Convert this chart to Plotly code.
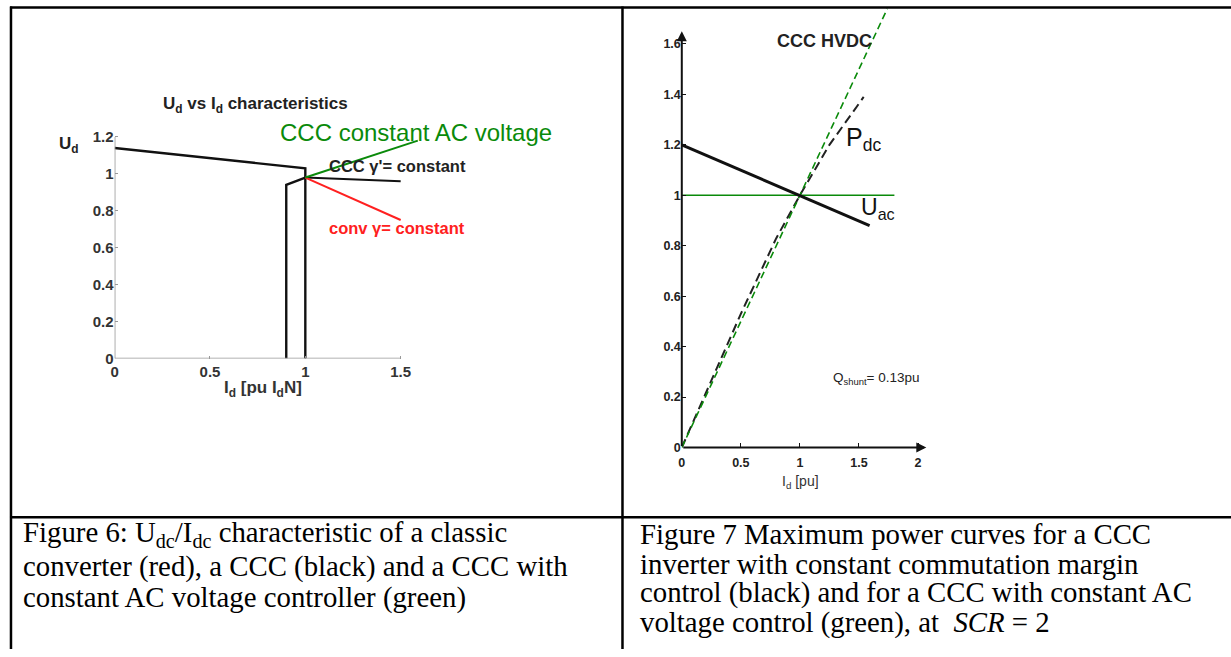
import plotly.graph_objects as go

W, H = 1231, 657

def PX(x):
    return x / W

def PY(y):
    return 1 - y / H

# ---------------- data: Figure 6 (left) ----------------
ccc_outer_x = [0.0, 1.0, 1.0, 1.0]
ccc_outer_y = [1.14, 1.03, 0.98, 0.0]
ccc_inner_x = [0.90, 0.90, 1.0]
ccc_inner_y = [0.0, 0.94, 0.98]
ccc_gamma_x = [1.0, 1.5]
ccc_gamma_y = [0.98, 0.96]
conv_x = [1.0, 1.5]
conv_y = [0.98, 0.75]
ccc_acv_x = [1.0, 1.59]
ccc_acv_y = [0.98, 1.18]
left_xticks = [0, 0.5, 1, 1.5]
left_xlabels = ["0", "0.5", "1", "1.5"]
left_yticks = [0, 0.2, 0.4, 0.6, 0.8, 1.0, 1.2]
left_ylabels = ["0", "0.2", "0.4", "0.6", "0.8", "1", "1.2"]

# ---------------- data: Figure 7 (right) ----------------
uac_x = [0.0, 1.59]
uac_y = [1.20, 0.88]
uac_green_x = [0.0, 1.80]
uac_green_y = [1.0, 1.0]
pdc_green_x = [0.0, 1.74]
pdc_green_y = [0.0, 1.74]
pdc_x = [0.0, 0.5, 0.8, 1.0, 1.25, 1.54]
pdc_y = [0.0, 0.53, 0.83, 1.0, 1.2, 1.39]
right_xticks = [0, 0.5, 1, 1.5, 2]
right_xlabels = ["0", "0.5", "1", "1.5", "2"]
right_yticks = [0, 0.2, 0.4, 0.6, 0.8, 1.0, 1.2, 1.4, 1.6]
right_ylabels = ["0", "0.2", "0.4", "0.6", "0.8", "1", "1.2", "1.4", "1.6"]

cap6 = [
    "Figure 6: U<sub>dc</sub>/I<sub>dc</sub> characteristic of a classic",
    "converter (red), a CCC (black) and a CCC with",
    "constant AC voltage controller (green)",
]
cap7 = [
    "Figure 7 Maximum power curves for a CCC",
    "inverter with constant commutation margin",
    "control (black) and for a CCC with constant AC",
    "voltage control (green), at  <i>SCR</i> = 2",
]

# ---------------- geometry (pixels) ----------------
xL0, sxL, xLmax = 111, 191.3, 1.7
yL0, syL, yLmax = 363, 187.0, 1.25
xR0, sxR, xRmax = 680, 118.5, 2.1
yR0, syR, yRmax = 453, 255.3, 1.75

GREEN = "#0a8a0a"
RED = "#ff2020"
FONT = "Liberation Sans"

fig = go.Figure()

# left traces
fig.add_trace(go.Scatter(x=ccc_outer_x, y=ccc_outer_y, mode="lines",
                         line=dict(color="#111", width=2.4), xaxis="x", yaxis="y"))
fig.add_trace(go.Scatter(x=ccc_inner_x, y=ccc_inner_y, mode="lines",
                         line=dict(color="#111", width=2.4), xaxis="x", yaxis="y"))
fig.add_trace(go.Scatter(x=ccc_gamma_x, y=ccc_gamma_y, mode="lines",
                         line=dict(color="#111", width=2), xaxis="x", yaxis="y"))
fig.add_trace(go.Scatter(x=conv_x, y=conv_y, mode="lines",
                         line=dict(color=RED, width=2), xaxis="x", yaxis="y"))
fig.add_trace(go.Scatter(x=ccc_acv_x, y=ccc_acv_y, mode="lines",
                         line=dict(color=GREEN, width=2), xaxis="x", yaxis="y"))

# right traces
fig.add_trace(go.Scatter(x=uac_green_x, y=uac_green_y, mode="lines",
                         line=dict(color=GREEN, width=1.5), xaxis="x2", yaxis="y2"))
fig.add_trace(go.Scatter(x=pdc_x, y=pdc_y, mode="lines",
                         line=dict(color="#222", width=2, dash="9px,5px"), xaxis="x2", yaxis="y2"))
fig.add_trace(go.Scatter(x=pdc_green_x, y=pdc_green_y, mode="lines",
                         line=dict(color=GREEN, width=1.6, dash="7px,4px"), xaxis="x2", yaxis="y2"))
fig.add_trace(go.Scatter(x=uac_x, y=uac_y, mode="lines",
                         line=dict(color="#111", width=3), xaxis="x2", yaxis="y2"))

tickfontL = dict(family=FONT, size=15, color="#333", weight="bold")
tickfontR = dict(family=FONT, size=12.5, color="#222", weight="bold")

fig.update_layout(
    width=W, height=H,
    margin=dict(l=0, r=0, t=0, b=0),
    paper_bgcolor="white", plot_bgcolor="rgba(0,0,0,0)",
    showlegend=False,
    xaxis=dict(domain=[PX(xL0), PX(xL0 + xLmax * sxL)], range=[0, xLmax],
               showgrid=False, zeroline=False, showline=False,
               tickmode="array", tickvals=left_xticks, ticktext=left_xlabels,
               ticks="inside", ticklen=3, tickcolor="#999", tickwidth=1.2,
               tickfont=tickfontL, anchor="y", ticklabelstandoff=2),
    yaxis=dict(domain=[PY(yL0), PY(yL0 - yLmax * syL)], range=[0, yLmax],
               showgrid=False, zeroline=False, showline=False,
               tickmode="array", tickvals=left_yticks, ticktext=left_ylabels,
               ticks="inside", ticklen=3, tickcolor="#999", tickwidth=1.2,
               tickfont=tickfontL, anchor="x"),
    xaxis2=dict(domain=[PX(xR0), PX(xR0 + xRmax * sxR)], range=[0, xRmax],
                showgrid=False, zeroline=False, showline=False,
                tickmode="array", tickvals=right_xticks, ticktext=right_xlabels,
                ticks="inside", ticklen=4, tickcolor="#111", tickwidth=1.2,
                tickfont=tickfontR, anchor="y2", ticklabelstandoff=6),
    yaxis2=dict(domain=[PY(yR0), PY(yR0 - yRmax * syR)], range=[0, yRmax],
                showgrid=False, zeroline=False, showline=False,
                tickmode="array", tickvals=right_yticks, ticktext=right_ylabels,
                ticks="inside", ticklen=4, tickcolor="#111", tickwidth=1.2,
                tickfont=tickfontR, anchor="x2"),
)

shapes = []
# table borders
BW = 2.5
shapes.append(dict(type="line", xref="paper", yref="paper", x0=PX(6), x1=PX(1231), y0=PY(7.5), y1=PY(7.5),
                   line=dict(color="black", width=BW)))
shapes.append(dict(type="line", xref="paper", yref="paper", x0=PX(7), x1=PX(7), y0=PY(6.5), y1=PY(657),
                   line=dict(color="black", width=BW)))
shapes.append(dict(type="line", xref="paper", yref="paper", x0=PX(620.5), x1=PX(620.5), y0=PY(6.5), y1=PY(657),
                   line=dict(color="black", width=BW)))
shapes.append(dict(type="line", xref="paper", yref="paper", x0=PX(6), x1=PX(1231), y0=PY(523.5), y1=PY(523.5),
                   line=dict(color="black", width=BW)))
# left axis lines
shapes.append(dict(type="line", xref="x", yref="y", x0=0, x1=left_xticks[-1], y0=0, y1=0,
                   line=dict(color="#999", width=1.6)))
shapes.append(dict(type="line", xref="x", yref="y", x0=0, x1=0, y0=0, y1=left_yticks[-1],
                   line=dict(color="#999", width=1.6)))
fig.update_layout(shapes=shapes)

ann = []
def txt(text, x, y, size, color="#222", bold=False, xanchor="center", family=FONT, yanchor="middle"):
    ann.append(dict(text=text, x=PX(x), y=PY(y), xref="paper", yref="paper", showarrow=False,
                    xanchor=xanchor, yanchor=yanchor,
                    font=dict(family=family, size=size, color=color, weight="bold" if bold else "normal")))

# right axes arrows
ann.append(dict(x=0, y=1.65, ax=0, ay=0, xref="x2", yref="y2", axref="x2", ayref="y2", text="",
                showarrow=True, arrowhead=2, arrowsize=1, arrowwidth=2, arrowcolor="#111"))
ann.append(dict(x=2.07, y=0, ax=0, ay=0, xref="x2", yref="y2", axref="x2", ayref="y2", text="",
                showarrow=True, arrowhead=2, arrowsize=1, arrowwidth=2, arrowcolor="#111"))

# left texts
txt("U<sub>d</sub> vs I<sub>d</sub> characteristics", 252, 106, 17, "#222", True)
txt("U<sub>d</sub>", 65, 147, 17, "#222", True)
txt("CCC constant AC voltage", 413, 134, 24, GREEN)
txt("CCC \u03b3'= constant", 395, 168, 16.5, "#222", True)
txt("conv \u03b3= constant", 394, 231, 16.5, RED, True)
txt("I<sub>d</sub> [pu I<sub>d</sub>N]", 260, 394, 17, "#333", True)

# right texts
txt("CCC HVDC", 823, 42, 18, "#222", True)
txt("P<sub>dc</sub>", 862, 141, 25, "#111")
txt("U<sub>ac</sub>", 877, 211, 23, "#111")
txt("Q<sub>shunt</sub>= 0.13pu", 875, 383, 13.5, "#222")
txt("I<sub>d</sub> [pu]", 799, 488, 14, "#333")

# captions
left_cy = [541, 573, 605]
right_cy = [541, 571, 600, 630]
for line, cy in zip(cap6, left_cy):
    txt(line, 17, cy, 28.8, "black", False, "left", "Liberation Serif")
for line, cy in zip(cap7, right_cy):
    txt(line, 636, cy, 28.8, "black", False, "left", "Liberation Serif")

fig.update_layout(annotations=ann)

post = (
    "var d=document.documentElement;d.style.margin='0px';d.style.padding='0px';d.style.overflow='hidden';"
    "var b=document.body;b.style.margin='0px';b.style.padding='0px';b.style.overflow='hidden';"
    "b.style.fontSize='0px';b.style.lineHeight='0px';"
    "var gd=document.getElementById('{plot_id}');"
    "gd.style.position='fixed';gd.style.left='0px';gd.style.top='0px';"
)
fig.write_html("out.html", config={"displayModeBar": False}, post_script=post)
